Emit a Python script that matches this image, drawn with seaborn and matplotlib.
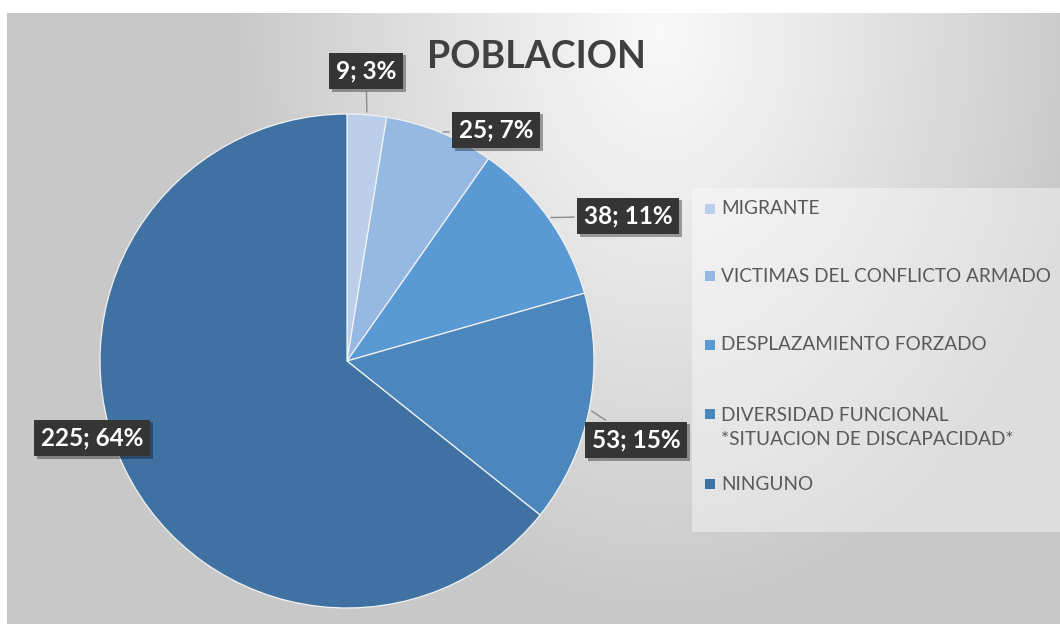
import numpy as np
import seaborn as sns
import matplotlib.pyplot as plt
import matplotlib.patheffects as pe
from matplotlib.patches import Rectangle

sns.set_theme(style="white")
plt.rcParams['font.family'] = ['Lato', 'DejaVu Sans']

# datos
categorias = ['MIGRANTE', 'VICTIMAS DEL CONFLICTO ARMADO', 'DESPLAZAMIENTO FORZADO',
              'DIVERSIDAD FUNCIONAL\n*SITUACION DE DISCAPACIDAD*', 'NINGUNO']
valores = [9, 25, 38, 53, 225]
colores = ['#bccfea', '#95b9e2', '#5a9ad4', '#4b86bd', '#3f72a3']
titulo = 'POBLACION'

# posiciones (pixeles) de etiquetas y leyenda
W, H = 1060, 624
cx, cy, rad = 347, 361, 247
etiq_px = [(366, 71), (496, 130), (628, 216), (636, 440), (92, 438)]
con_linea = [True, True, True, True, False]
ley_y_txt = [209, 276, 345, 427.5, 484]
ley_y_mk = [209, 276, 345, 414, 484]

fig = plt.figure(figsize=(W / 100, H / 100), dpi=100, facecolor='white')

# fondo con degradado radial
bg = fig.add_axes([7 / W, 0, (W - 7) / W, (H - 13) / H])
xx, yy = np.meshgrid(np.arange(7, W), np.arange(13, H))
d = np.sqrt(((xx - 660) / 430.0) ** 2 + ((yy - 30) / 580.0) ** 2)
d = np.clip(d, 0, 1)
brillo = 0.975 - (0.975 - 0.785) * d ** 1.1
bg.imshow(np.dstack([brillo] * 3), aspect='auto', interpolation='bilinear')
bg.axis('off')

# pastel
ax = fig.add_axes([(cx - rad) / W, (H - cy - rad) / H, 2 * rad / W, 2 * rad / H])
ax.set_facecolor('none')
pal = sns.color_palette(colores)
wedges, _ = ax.pie(valores, colors=pal, startangle=90, counterclock=False, radius=1,
                   wedgeprops=dict(edgecolor='#f2f2f2', linewidth=0.9))
ax.set_xlim(-1, 1)
ax.set_ylim(-1, 1)
ax.axis('off')

total = sum(valores)
for w, v, (px, py), linea in zip(wedges, valores, etiq_px, con_linea):
    ang = np.deg2rad((w.theta1 + w.theta2) / 2)
    punto = (np.cos(ang), np.sin(ang))
    pos = ((px - cx) / rad, (cy - py) / rad)
    txt = f"{v}; {round(100 * v / total)}%"
    t = ax.annotate(txt, xy=punto, xytext=pos, ha='center', va='center',
                    fontsize=17.5, fontweight='bold', color='white',
                    bbox=dict(boxstyle='square,pad=0.28', fc='#353535', ec='none'),
                    arrowprops=dict(arrowstyle='-', color='#8c8c8c', lw=1) if linea else None,
                    annotation_clip=False, zorder=5)
    t.get_bbox_patch().set_path_effects([
        pe.SimplePatchShadow(offset=(2, -2), shadow_rgbFace='black', alpha=0.35),
        pe.Normal()])

# titulo
fig.text(536 / W, 1 - 57 / H, titulo, ha='center', va='center', fontsize=27,
         fontweight='bold', color='#404040')

# leyenda manual
fig.patches.append(Rectangle((692 / W, 1 - 532 / H), (W - 692) / W, 344 / H,
                             transform=fig.transFigure, fc='white', ec='none', alpha=0.4))
for nombre, c, yt, ym in zip(categorias, pal, ley_y_txt, ley_y_mk):
    fig.patches.append(Rectangle((705 / W, 1 - (ym + 5) / H), 10 / W, 10 / H,
                                 transform=fig.transFigure, fc=c, ec='none'))
    fig.text(721 / W, 1 - yt / H, nombre, ha='left', va='center', fontsize=13.7,
             color='#595959', linespacing=1.45)

fig.savefig('out.png', dpi=100, facecolor='white')
